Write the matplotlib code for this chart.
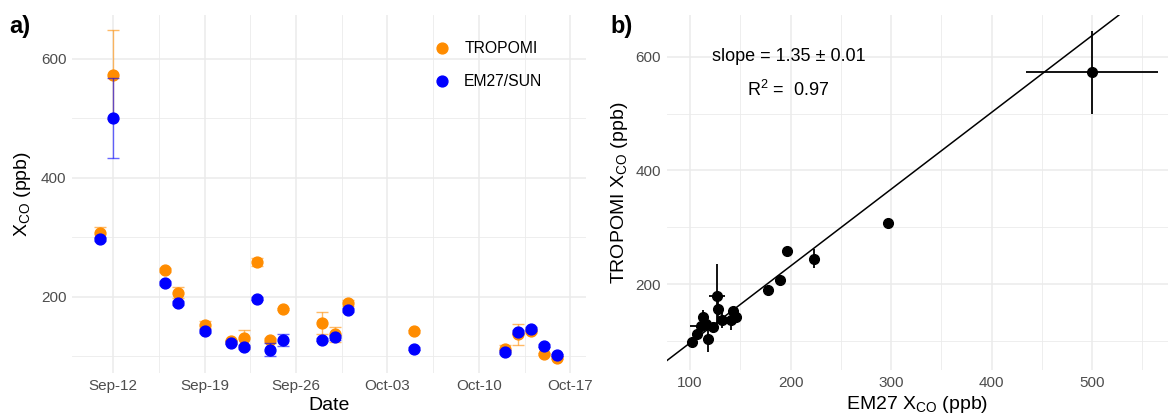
import numpy as np
import pandas as pd
import matplotlib
matplotlib.use("Agg")
import matplotlib.pyplot as plt
import matplotlib.dates as mdates

plt.rcParams['font.family'] = ['Liberation Sans', 'DejaVu Sans']
plt.rcParams['mathtext.fontset'] = 'custom'
plt.rcParams['mathtext.rm'] = 'Liberation Sans'
plt.rcParams['mathtext.it'] = 'Liberation Sans:italic'

# Data
dates = pd.to_datetime(['2019-09-11', '2019-09-12', '2019-09-16', '2019-09-17', '2019-09-19',
                        '2019-09-21', '2019-09-22', '2019-09-23', '2019-09-24', '2019-09-25',
                        '2019-09-28', '2019-09-29', '2019-09-30', '2019-10-05', '2019-10-12',
                        '2019-10-13', '2019-10-14', '2019-10-15', '2019-10-16'])
tropomi = [308, 573, 245, 207, 153, 125, 130, 258, 127, 179, 156, 137, 190, 142, 113, 137, 143, 104, 98]
em27 = [297, 500, 223, 190, 143, 123, 116, 197, 111, 127, 128, 132, 178, 113, 107, 141, 146, 118, 102]
# uncertainties shown in panel a
tropomi_err = [9, 75, 3, 9, 6, 3, 14, 7, 3, 2, 19, 13, 5, 2, 6, 18, 3, 2, 2]
em27_err = [3, 67, 3, 3, 3, 3, 3, 2, 11, 10, 3, 4, 3, 2, 3, 3, 3, 3, 2]
# uncertainties shown in panel b
tropomi_sd = [5, 73, 17, 4, 4, 4, 6, 4, 4, 57, 20, 13, 4, 12, 4, 17, 4, 23, 4]
em27_sd = [3, 66, 3, 3, 3, 3, 3, 3, 11, 8, 3, 3, 3, 3, 3, 3, 3, 3, 3]
tick_dates = pd.to_datetime(['2019-09-12', '2019-09-19', '2019-09-26',
                             '2019-10-03', '2019-10-10', '2019-10-17'])
slope, intercept = 1.35, -38

orange = '#FF8C00'
blue = '#0000FF'
grid_c = '#EBEBEB'
tick_c = '#4D4D4D'

fig = plt.figure(figsize=(11.68, 4.16), dpi=100)
ax1 = fig.add_axes([0.0616, 0.1034, 0.440, 0.860])
ax2 = fig.add_axes([0.5708, 0.1106, 0.4292, 0.853])

for ax in (ax1, ax2):
    for s in ax.spines.values():
        s.set_visible(False)
    ax.grid(True, which='major', color=grid_c, lw=1.1)
    ax.grid(True, which='minor', color=grid_c, lw=0.6)
    ax.tick_params(which='both', length=0, labelsize=11, labelcolor=tick_c, pad=4)
    ax.set_axisbelow(True)

# Panel a: time series
ax1.errorbar(dates, tropomi, yerr=tropomi_err, fmt='none', ecolor=orange, alpha=0.6,
             elinewidth=1, capsize=4.5, capthick=1)
ax1.plot(dates, tropomi, 'o', color=orange, ms=7.8, label='TROPOMI', ls='none')
ax1.errorbar(dates, em27, yerr=em27_err, fmt='none', ecolor=blue, alpha=0.6,
             elinewidth=1, capsize=4.5, capthick=1)
ax1.plot(dates, em27, 'o', color=blue, ms=7.8, label='EM27/SUN', ls='none')

tick_nums = mdates.date2num(tick_dates)
t0 = tick_nums[0]
xlo, xhi = t0 - 3.16, t0 + 36.2
minor_x = [m for m in np.append(tick_nums - 3.5, tick_nums[-1] + 3.5) if xlo < m < xhi]
ax1.set_xticks(tick_nums)
ax1.set_xticklabels([d.strftime('%b-%d') for d in tick_dates])
ax1.set_xticks(minor_x, minor=True)
ax1.set_yticks([200, 400, 600])
ax1.set_yticks([100, 300, 500], minor=True)
ax1.set_xlim(xlo, xhi)
ax1.set_ylim(72, 673)
ax1.set_xlabel('Date', fontsize=14, labelpad=3)
ax1.set_ylabel(r'X$_{\mathrm{CO}}$ (ppb)', fontsize=14, labelpad=6)
ax1.legend(loc='upper left', bbox_to_anchor=(0.69, 0.945), frameon=False, fontsize=11.3,
           handletextpad=0.8, labelspacing=1.15, borderaxespad=0, handlelength=1.2)

# Panel b: scatter
ax2.axline((0, intercept), slope=slope, color='black', lw=1.1)
ax2.errorbar(em27, tropomi, xerr=em27_sd, yerr=tropomi_sd, fmt='o', color='black',
             ms=7, elinewidth=1.3, capsize=0)
ax2.set_xticks([100, 200, 300, 400, 500])
ax2.set_xticks([150, 250, 350, 450, 550], minor=True)
ax2.set_yticks([200, 400, 600])
ax2.set_yticks([100, 300, 500], minor=True)
ax2.set_xlim(76.8, 575.6)
ax2.set_ylim(49.4, 673)
ax2.set_xlabel(r'EM27 X$_{\mathrm{CO}}$ (ppb)', fontsize=14, labelpad=3)
ax2.set_ylabel(r'TROPOMI X$_{\mathrm{CO}}$ (ppb)', fontsize=14, labelpad=4)
ax2.text(198, 600, u'slope = %.2f \u00b1 0.01' % slope, ha='center', va='center', fontsize=13)
ax2.text(198, 541, r'R$^2$ =  0.97', ha='center', va='center', fontsize=13)

fig.text(0.008, 0.92, 'a)', fontsize=17, fontweight='bold')
fig.text(0.523, 0.92, 'b)', fontsize=17, fontweight='bold')

fig.savefig('out.png', dpi=100)
